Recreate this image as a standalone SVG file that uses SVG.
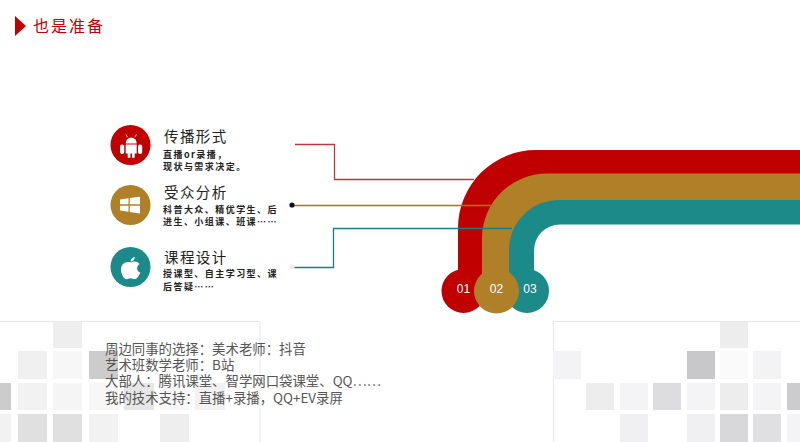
<svg xmlns="http://www.w3.org/2000/svg" width="800" height="442" viewBox="0 0 800 442">
<style>
text{font-family:"Noto Sans CJK SC","Noto Sans",sans-serif}
.title{font-size:16px;fill:#c00000;letter-spacing:2px}
.h{font-size:14.5px;fill:#222;letter-spacing:1.4px}
.s{font-size:9px;font-weight:700;fill:#222;letter-spacing:1.45px}
.b{font-size:13.4px;fill:#555}
.n{font-family:"Liberation Sans",Arial,sans-serif;font-size:12px;fill:#fff;text-anchor:middle}
.panel{fill:#fff;stroke:#e8e8e8;stroke-width:1}
.ln{fill:none;stroke-width:1.3}
</style>
<rect width="800" height="442" fill="#fff"/>
<g id="background">
<rect class="panel" x="-2" y="321.500" width="262" height="122"/>
<rect class="panel" x="553.500" y="321.500" width="248" height="122"/>
<g>
<rect x="53" y="322" width="29" height="26" fill="#eeeeee"/>
<rect x="18" y="351" width="29" height="28" fill="#f0f0f0"/>
<rect x="53" y="351" width="29" height="28" fill="#f7f7f7"/>
<rect x="89" y="351" width="29" height="28" fill="#cccccc"/>
<rect x="0" y="383" width="11" height="27" fill="#cccccc"/>
<rect x="18" y="383" width="29" height="27" fill="#f2f2f2"/>
<rect x="53" y="383" width="29" height="27" fill="#f5f5f5"/>
<rect x="89" y="383" width="29" height="27" fill="#f7f7f7"/>
<rect x="124" y="383" width="30" height="27" fill="#e6e6e6"/>
<rect x="160" y="383" width="29" height="27" fill="#f7f7f7"/>
<rect x="195" y="383" width="30" height="27" fill="#f2f2f2"/>
<rect x="0" y="414" width="11" height="28" fill="#f2f2f2"/>
<rect x="18" y="414" width="29" height="28" fill="#e0e0e0"/>
<rect x="53" y="414" width="29" height="28" fill="#e0e0e0"/>
<rect x="89" y="414" width="29" height="28" fill="#f2f2f2"/>
<rect x="160" y="414" width="29" height="28" fill="#eeeeee"/>
</g>
<g>
<rect x="720" y="322" width="28" height="26" fill="#eeedee"/>
<rect x="553" y="351" width="28" height="28" fill="#f3f2f4"/>
<rect x="687" y="351" width="28" height="28" fill="#c8c7ca"/>
<rect x="720" y="351" width="28" height="28" fill="#fafafa"/>
<rect x="753" y="351" width="28" height="28" fill="#f3f2f4"/>
<rect x="586" y="383" width="28" height="27" fill="#eeedee"/>
<rect x="620" y="383" width="28" height="27" fill="#f4f3f5"/>
<rect x="653" y="383" width="28" height="27" fill="#dddcde"/>
<rect x="687" y="383" width="28" height="27" fill="#f4f3f5"/>
<rect x="720" y="383" width="28" height="27" fill="#eeedee"/>
<rect x="753" y="383" width="28" height="27" fill="#f4f3f5"/>
<rect x="787" y="383" width="13" height="27" fill="#cccbce"/>
<rect x="620" y="414" width="28" height="28" fill="#f0eff1"/>
<rect x="687" y="414" width="28" height="28" fill="#f0eff1"/>
<rect x="720" y="414" width="28" height="28" fill="#d8d7d9"/>
<rect x="753" y="414" width="28" height="28" fill="#e0dfe1"/>
<rect x="787" y="414" width="13" height="28" fill="#f4f3f5"/>
</g>
</g>
<g id="header">
<path d="M15 16L26 26L15 36Z" fill="#c00000"/>
<text class="title" x="33" y="32">也是准备</text>
</g>
<g id="node-bands">
<path d="M458 280V228A78 78 0 0 1 536 150H800V212H540A20 20 0 0 0 520 232V280Z" fill="#c00000"/>
<circle cx="463.500" cy="291" r="22" fill="#c00000"/>
<path d="M482 280V238A65 65 0 0 1 547 173.500H800V212H540A20 20 0 0 0 520 232V280Z" fill="#b08028"/>
<path d="M509 280V250A50 50 0 0 1 559 200H800V224.500H560A26 26 0 0 0 534 250.500V280Z" fill="#1b8a88"/>
<circle cx="527" cy="291" r="22" fill="#1b8a88"/>
<circle cx="496.500" cy="291" r="22.500" fill="#b08028"/>
</g>
<g id="node-01"><text class="n" x="463.500" y="293">01</text></g>
<g id="node-02"><text class="n" x="496.500" y="293">02</text></g>
<g id="node-03"><text class="n" x="530" y="293">03</text></g>
<g id="connectors">
<path class="ln" d="M295 144.500H334.500V179.500H474" stroke="#b8393f"/>
<path class="ln" d="M292 205.500H493" stroke="#a5790f"/>
<path class="ln" d="M292 267.500H333.500V228.500H512" stroke="#1a7f82"/>
<circle cx="292" cy="205" r="2.600" fill="#111"/>
<circle cx="292" cy="267" r="2.600" fill="#eeeee2"/>
</g>
<g id="node-spread">
<circle cx="130.500" cy="145" r="20" fill="#c00000"/>
<g fill="#fff">
<path d="M125.700 143.500A5.500 6 0 0 1 136.700 143.500Z"/>
<path d="M125.700 144.500H136.700V153.500H134.700V157.700H132V153.500H130.400V157.700H127.700V153.500H125.700Z"/>
<rect x="120" y="144.500" width="4.200" height="9.500" rx="2"/>
<rect x="138" y="144.500" width="4.200" height="9.500" rx="2"/>
</g>
<path d="M127.500 137.200L126 134.500M134.900 137.200L136.400 134.500" stroke="#fff" stroke-width="0.800" fill="none"/>
<text class="h" x="164" y="142">传播形式</text>
<text class="s" x="163" y="158">直播or录播，</text>
<text class="s" x="163" y="170">现状与需求决定。</text>
</g>
<g id="node-audience">
<circle cx="130.500" cy="205" r="20" fill="#b08028"/>
<path d="M120 199.500L128.500 198.300V204.300H120ZM129.800 198.100L140 196.700V204.300H129.800ZM120 205.700H128.500V211.800L120 210.600ZM129.800 205.700H140V213.400L129.800 212Z" fill="#fff"/>
<text class="h" x="164" y="198">受众分析</text>
<text class="s" x="163" y="213">科普大众、精优学生、后</text>
<text class="s" x="163" y="225">进生、小组课、班课……</text>
</g>
<g id="node-design">
<circle cx="130.500" cy="267" r="20" fill="#1b8a88"/>
<path d="M131 262.500C134 260.800 137.500 261 139.500 264C136 266.300 136.500 271.300 140.300 272.800C139 276 136.800 279.300 134.500 279.300C132.800 279.300 132.300 278.300 130.500 278.300C128.700 278.300 128 279.300 126.500 279.300C123.700 279.300 121 273.800 121 269.500C121 264 125.500 260.800 131 262.500Z" fill="#fff"/>
<path d="M130.500 261.500C130.500 259 132.500 257.300 134.800 257C134.800 259.500 133 261.500 130.500 261.500Z" fill="#fff"/>
<text class="h" x="164" y="263">课程设计</text>
<text class="s" x="163" y="277">授课型、自主学习型、课</text>
<text class="s" x="163" y="290">后答疑……</text>
</g>
<g id="notes">
<text class="b" x="105" y="353.500">周边同事的选择：美术老师：抖音</text>
<text class="b" x="105" y="369.500">艺术班数学老师：B站</text>
<text class="b" x="105" y="386">大部人：腾讯课堂、智学网口袋课堂、QQ……</text>
<text class="b" x="105" y="402.500">我的技术支持：直播+录播，QQ+EV录屏</text>
</g>
</svg>
